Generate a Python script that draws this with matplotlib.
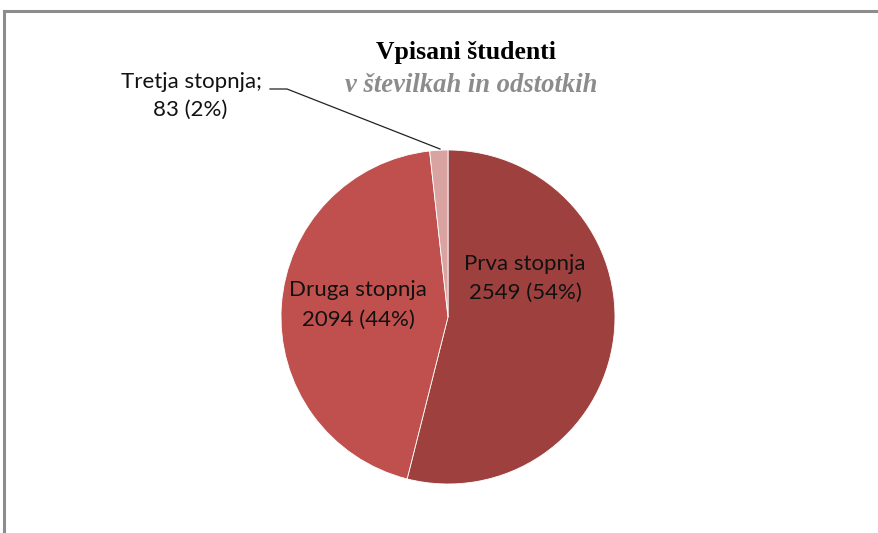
import matplotlib.pyplot as plt
from matplotlib.patches import Rectangle

# %% data
categories = ['Prva stopnja', 'Druga stopnja', 'Tretja stopnja']
counts = [2549, 2094, 83]
percents = [54, 44, 2]
colors = ['#9E413E', '#C0504D', '#D9A3A2']

W, H = 879, 533
cx, cy, r = 448, H - 317, 167

# %% figure
fig = plt.figure(figsize=(W / 100, H / 100), dpi=100)
ax = fig.add_axes([0, 0, 1, 1])

# partial chart frame (continues off the right and bottom edges)
ax.add_patch(Rectangle((4.5, -10), W + 20, H - 10.5 + 10, fill=False,
                       edgecolor='#8C8C8C', linewidth=2.2))

ax.pie(counts, colors=colors, startangle=90, counterclock=False,
       center=(cx, cy), radius=r, frame=True,
       wedgeprops=dict(edgecolor='white', linewidth=0.6))
ax.set_xlim(0, W)
ax.set_ylim(0, H)
ax.set_aspect('equal')
ax.axis('off')

lab_font = dict(family='Lato', fontsize=16, color='#111111')

# Prva
ax.text(525, H - 264, categories[0], ha='center', va='center', **lab_font)
ax.text(525, H - 293, '%d (%d%%)' % (counts[0], percents[0]), ha='center', va='center', **lab_font)
# Druga
ax.text(358, H - 290, categories[1], ha='center', va='center', **lab_font)
ax.text(358, H - 320, '%d (%d%%)' % (counts[1], percents[1]), ha='center', va='center', **lab_font)
# Tretja (outside with leader line)
ax.text(191, H - 82, categories[2] + ';', ha='center', va='center', **lab_font)
ax.text(190, H - 110, '%d (%d%%)' % (counts[2], percents[2]), ha='center', va='center', **lab_font)
ax.plot([270, 287, 440], [H - 89, H - 89, H - 149], color='#222222', linewidth=0.9)

# titles
ax.text(466, H - 52, 'Vpisani študenti', ha='center', va='center',
        family='Liberation Serif', fontweight='bold', fontsize=18.5, color='black')
ax.text(471, H - 85, 'v številkah in odstotkih', ha='center', va='center',
        family='Liberation Serif', fontweight='bold', style='italic', fontsize=19.2, color='#8C8C8C')

fig.savefig('out.png', dpi=100)
